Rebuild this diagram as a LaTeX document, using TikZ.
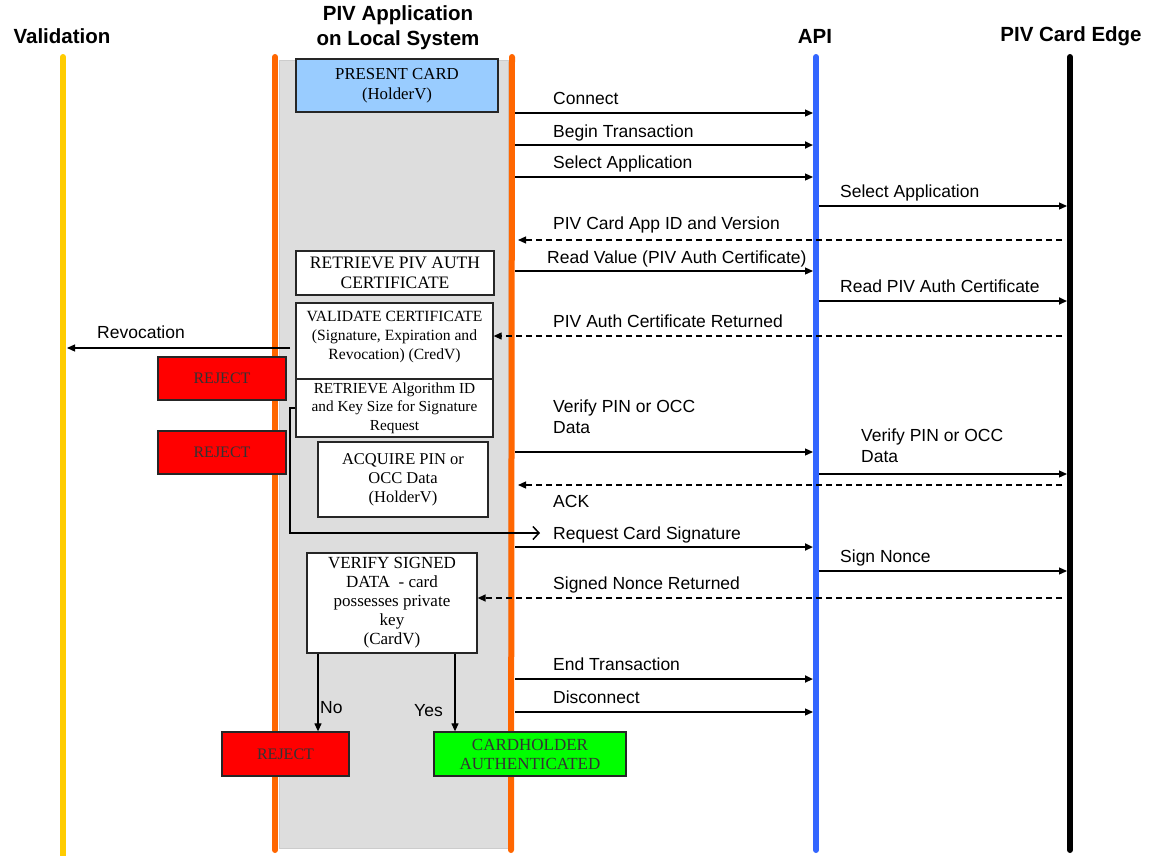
\documentclass[tikz,border=0pt]{standalone}
\usepackage{fontspec}
\setmainfont{Liberation Sans}
\newfontfamily\lab{Liberation Sans}
\newfontfamily\serf{Liberation Serif}
\usetikzlibrary{arrows.meta}
\definecolor{lyellow}{HTML}{FFCC00}
\definecolor{lorange}{HTML}{FF6600}
\definecolor{lblue}{HTML}{3366FF}
\definecolor{sysgrey}{HTML}{DDDDDD}
\definecolor{boxblue}{HTML}{99CCFF}
\definecolor{rejred}{HTML}{FF0000}
\definecolor{okgreen}{HTML}{00FF00}
\begin{document}
\begin{tikzpicture}[x=1pt,y=-1pt,
  life/.style={line width=6pt, line cap=round},
  hdr/.style={font=\bfseries\fontsize{20.5}{25}\selectfont, align=center, inner sep=0pt},
  msgl/.style={font=\lab\fontsize{17.5}{21}\selectfont, anchor=base west, inner sep=0pt},
  msgm/.style={font=\lab\fontsize{17.5}{21}\selectfont, anchor=north west, align=left, inner sep=0pt},
  stepbox/.style={draw=black!85, line width=1.3pt, font=\serf\fontsize{17}{19}\selectfont, align=center, inner sep=1pt, fill=white},
  rejbox/.style={stepbox, fill=rejred, text=black!80, font=\serf\fontsize{16}{19}\selectfont},
  arr/.style={-{Triangle[length=8pt,width=7pt]}, line width=1.2pt},
  tarr/.style={arr, line width=2pt},
  darr/.style={arr, dash pattern=on 6pt off 4pt},
]
\useasboundingbox (0,0) rectangle (1151,855);
% system area
\fill[sysgrey, draw=black!20, line width=1pt] (279,60) rectangle (508,848);
% lifelines
\coordinate (valT) at (63,57);
\coordinate (appLT) at (275,57);
\coordinate (appRT) at (512,57);
\coordinate (apiT) at (816,57);
\coordinate (cardT) at (1070,57);
\draw[life, lyellow] (valT) -- (63,870);
\draw[life, lorange] (appLT) -- (275,850);
\draw[life, lorange] (appRT) -- (511,850);
\draw[life, lblue] (apiT) -- (816,850);
\draw[life, black] (cardT) -- (1070,850);
% edges of lifelines
\coordinate (valE) at (67,0);
\coordinate (appRo) at (515,0);
\coordinate (appRi) at (518,0);
\coordinate (apiL) at (813,0);
\coordinate (apiR) at (819,0);
\coordinate (cardL) at (1067,0);
\coordinate (cardD) at (1062,0);
% headers
\node[hdr] (hval) at (62,36) {Validation};
\node[hdr] (happ) at (398,28) {PIV Application\\on Local System};
\node[hdr] (hapi) at (815,36) {API};
\node[hdr] (hcard) at (1071,36) {PIV Card Edge};
% boxes
\node[stepbox, fill=boxblue, minimum width=202pt, minimum height=53pt, font=\serf\fontsize{16.8}{20}\selectfont] (present) at (397,85.5) {PRESENT CARD\\(HolderV)};
\node[stepbox, minimum width=198pt, minimum height=44pt, font=\serf\fontsize{17.5}{20}\selectfont] (retr) at (395,273) {RETRIEVE PIV AUTH\\CERTIFICATE};
\node[stepbox, minimum width=197pt, minimum height=76pt, text depth=12pt, font=\serf\fontsize{15.6}{19}\selectfont] (valid) at (394.5,341) {VALIDATE CERTIFICATE\\(Signature, Expiration and\\Revocation) (CredV)};
\node[stepbox, minimum width=197pt, minimum height=58pt, font=\serf\fontsize{15.3}{18.5}\selectfont] (alg) at (394.5,408) {RETRIEVE Algorithm ID\\and Key Size for Signature\\Request};
\node[stepbox, minimum width=170pt, minimum height=75pt, font=\serf\fontsize{16.5}{19}\selectfont] (acq) at (403,479.5) {ACQUIRE PIN or\\OCC Data\\(HolderV)};
\node[rejbox, minimum width=128pt, minimum height=43pt] (rej1) at (222,378.5) {REJECT};
\node[rejbox, minimum width=128pt, minimum height=43pt] (rej2) at (222,452.5) {REJECT};
\node[stepbox, minimum width=170pt, minimum height=100pt] (verify) at (392,603) {VERIFY SIGNED\\DATA \ - card\\possesses private\\key\\(CardV)};
\node[rejbox, minimum width=127pt, minimum height=44pt] (rej3) at (285.5,754) {REJECT};
\node[stepbox, fill=okgreen, text=black!80, minimum width=192pt, minimum height=44pt] (auth) at (530,754) {CARDHOLDER\\AUTHENTICATED};
% messages
\draw[arr] (appRo |- 0,113) -- (apiL |- 0,113);
\node[msgl] (l1) at (553,104) {Connect};
\draw[tarr] (appRo |- 0,145) -- (apiL |- 0,145);
\node[msgl] (l2) at (553,137) {Begin Transaction};
\draw[arr] (appRo |- 0,177) -- (apiL |- 0,177);
\node[msgl] (l3) at (553,168) {Select Application};
\draw[arr] (apiR |- 0,206) -- (cardL |- 0,206);
\node[msgl] (l4) at (840,197) {Select Application};
\draw[darr] (cardD |- 0,240) -- (appRi |- 0,240);
\node[msgl] (l5) at (553,229) {PIV Card App ID and Version};
\draw[arr] (appRo |- 0,271) -- (apiL |- 0,271);
\node[msgl] (l6) at (547,263) {Read Value (PIV Auth Certificate)};
\draw[tarr] (apiR |- 0,301) -- (cardL |- 0,301);
\node[msgl] (l7) at (840,292) {Read PIV Auth Certificate};
\draw[darr] (cardD |- 0,336) -- (valid.east |- 0,336);
\node[msgl] (l8) at (553,327) {PIV Auth Certificate Returned};
% revocation
\coordinate (revS) at (290,348);
\draw[arr] (revS) -- (valE |- revS);
\node[msgl] (l9) at (97,338) {Revocation};
% verify PIN
\draw[arr] (appRo |- 0,452) -- (apiL |- 0,452);
\node[msgm] (l10) at (553,400) {Verify PIN or OCC\\Data};
\draw[arr] (apiR |- 0,474) -- (cardL |- 0,474);
\node[msgm] (l11) at (861,429) {Verify PIN or OCC\\Data};
\draw[darr] (cardD |- 0,485) -- (appRi |- 0,485);
\node[msgl] (l12) at (553,507) {ACK};
% bracket to request
\coordinate (brA) at (290,408);
\coordinate (brB) at (290,533);
\coordinate (brC) at (540,533);
\draw[line width=1.5pt, -{Straight Barb[length=6pt,width=13pt]}] (alg.west |- brA) -- (brA) -- (brB) -- (brC);
\draw[tarr] (appRo |- 0,547) -- (apiL |- 0,547);
\node[msgl] (l13) at (553,539) {Request Card Signature};
\draw[arr] (apiR |- 0,571) -- (cardL |- 0,571);
\node[msgl] (l14) at (840,562) {Sign Nonce};
\draw[darr, line width=1.5pt] (cardD |- 0,598) -- (verify.east |- 0,598);
\node[msgl] (l15) at (553,589) {Signed Nonce Returned};
\draw[tarr] (appRo |- 0,679) -- (apiL |- 0,679);
\node[msgl] (l16) at (553,670) {End Transaction};
\draw[arr] (appRo |- 0,712) -- (apiL |- 0,712);
\node[msgl] (l17) at (553,703) {Disconnect};
% decision
\draw[arr] (verify.south -| 318,0) -- (318,0 |- rej3.north);
\draw[arr] (verify.south -| 455,0) -- (455,0 |- auth.north);
\node[msgl] (lno) at (320,713) {No};
\node[msgl] (lyes) at (414,716) {Yes};
\end{tikzpicture}
\end{document}
